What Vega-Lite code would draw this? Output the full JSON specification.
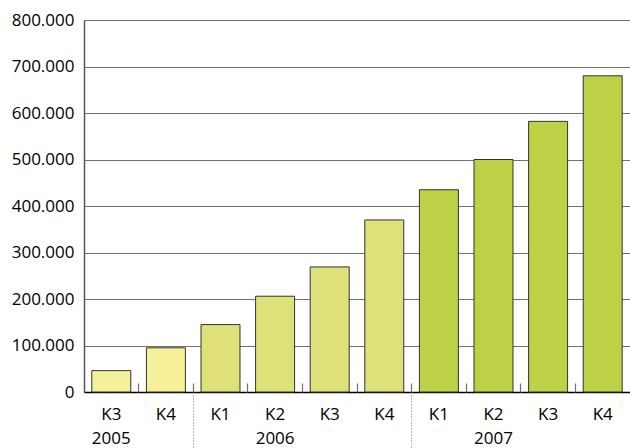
{
  "$schema": "https://vega.github.io/schema/vega-lite/v6.json",
  "width": 546,
  "height": 372,
  "autosize": {"type": "none"},
  "padding": {"left": 84, "top": 20, "right": 0, "bottom": 56},
  "background": "white",
  "config": {
    "view": {"stroke": null},
    "font": "Open Sans",
    "axis": {"labelFont": "Open Sans", "labelFontSize": 17, "labelColor": "#000000"}
  },
  "data": {
    "values": [
      {"period": "2005 K3", "year": "2005", "value": 46000},
      {"period": "2005 K4", "year": "2005", "value": 95000},
      {"period": "2006 K1", "year": "2006", "value": 145000},
      {"period": "2006 K2", "year": "2006", "value": 206000},
      {"period": "2006 K3", "year": "2006", "value": 269000},
      {"period": "2006 K4", "year": "2006", "value": 370000},
      {"period": "2007 K1", "year": "2007", "value": 435000},
      {"period": "2007 K2", "year": "2007", "value": 500000},
      {"period": "2007 K3", "year": "2007", "value": 582000},
      {"period": "2007 K4", "year": "2007", "value": 680000}
    ]
  },
  "resolve": {"axis": {"x": "independent"}},
  "layer": [
    {
      "mark": {"type": "bar", "width": {"band": 0.714}, "stroke": "#333333", "strokeWidth": 1},
      "encoding": {
        "x": {
          "field": "period", "type": "nominal", "sort": null,
          "scale": {"paddingInner": 0, "paddingOuter": 0},
          "axis": {
            "orient": "bottom", "title": null, "labelAngle": 0, "ticks": false,
            "domainColor": "#000000", "domainWidth": 1.5,
            "labelPadding": 14,
            "labelExpr": "split(datum.value, ' ')[1]"
          }
        },
        "y": {
          "field": "value", "type": "quantitative",
          "scale": {"domain": [0, 800000], "nice": false},
          "axis": {
            "title": null, "ticks": false, "tickCount": 8, "labelPadding": 10,
            "grid": true, "gridColor": "#707070", "gridWidth": 1.2,
            "domainColor": "#555555", "domainWidth": 1.5,
            "labelExpr": "replace(format(datum.value, ','), ',', '.')"
          }
        },
        "color": {
          "field": "year", "type": "nominal", "legend": null,
          "scale": {"domain": ["2005", "2006", "2007"], "range": ["#f6f09a", "#dee07a", "#bed045"]}
        }
      }
    },
    {
      "mark": {"type": "point", "opacity": 0},
      "encoding": {
        "x": {
          "field": "period", "type": "nominal", "sort": null,
          "axis": {
            "orient": "bottom", "title": null, "domain": false, "labels": false,
            "bandPosition": 1, "offset": -9, "tickSize": 9, "tickColor": "#707070", "tickWidth": 1.2,
            "values": ["2005 K3", "2005 K4", "2006 K1", "2006 K2", "2006 K3", "2006 K4", "2007 K1", "2007 K2", "2007 K3"]
          }
        }
      }
    },
    {
      "mark": {"type": "point", "opacity": 0},
      "encoding": {
        "x": {
          "field": "period", "type": "nominal", "sort": null,
          "axis": {
            "orient": "bottom", "title": null, "domain": false, "labels": false,
            "bandPosition": 1, "tickSize": 56, "tickColor": "#707070", "tickWidth": 1, "tickDash": [1, 2],
            "values": ["2005 K4", "2006 K4"]
          }
        }
      }
    },
    {
      "mark": {"type": "point", "opacity": 0},
      "encoding": {
        "x": {
          "field": "period", "type": "nominal", "sort": null,
          "axis": {
            "orient": "bottom", "title": null, "domain": false, "ticks": false,
            "bandPosition": 1, "labelPadding": 38, "labelAngle": 0,
            "values": ["2005 K3", "2006 K2", "2007 K2"],
            "labelExpr": "split(datum.value, ' ')[0]"
          }
        }
      }
    }
  ]
}
